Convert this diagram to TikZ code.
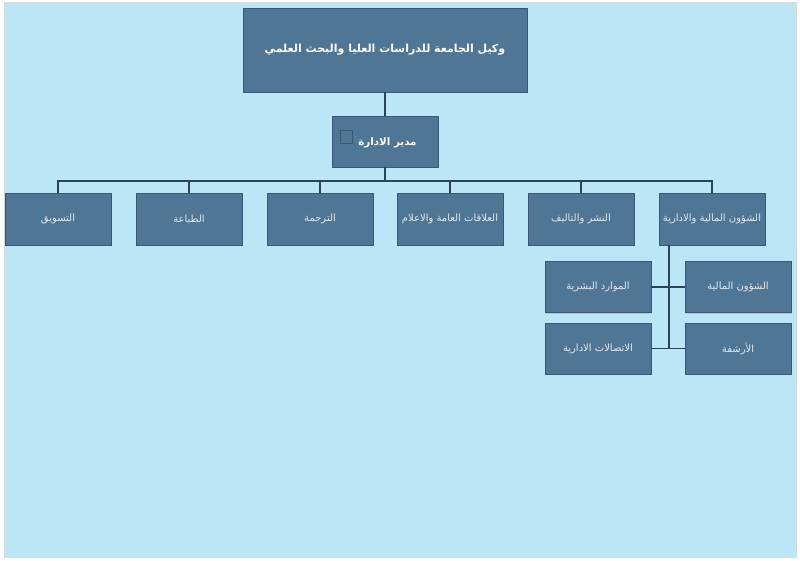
\documentclass[tikz,border=0pt]{standalone}
\usepackage{fontspec}
\usepackage{tikz}
\usetikzlibrary{shadows}
\TeXXeTstate=1
\newfontfamily\arabicfont[Script=Arabic]{DejaVu Sans}
\definecolor{mypaleblue}{RGB}{186,230,245}
\definecolor{myboxblue}{RGB}{80,118,150}
\definecolor{myedgeblue}{RGB}{58,88,115}
\definecolor{mylineblue}{RGB}{40,68,92}
\definecolor{mytextgrey}{RGB}{225,233,238}
\newcommand{\ar}[1]{\arabicfont\beginR #1\endR}
\newcommand{\widthunit}{106pt}
\newcommand{\heightunit}{52pt}
\tikzset{
    common/.style={draw=myedgeblue, fill=myboxblue, rectangle, line width=0.6pt,
        drop shadow={opacity=0.25, shadow xshift=1pt, shadow yshift=-1pt}},
    unit/.style={common, minimum width=\widthunit, minimum height=\heightunit,
        text=mytextgrey, font=\fontsize{10}{12}\selectfont},
    head/.style={common, text=white, font=\fontsize{11}{13}\selectfont\bfseries},
    link/.style={draw=mylineblue, line width=1.3pt}
}
\begin{document}
\begin{tikzpicture}[x=1pt, y=-1pt]
        \useasboundingbox (0,0) rectangle (800,561);
        \fill[white] (0,0) rectangle (800,561);
        \filldraw[fill=mypaleblue, draw=black!15] (4,2) rectangle (796,557);

        \node[head, minimum width=284pt, minimum height=84pt] (top) at (385,50) {\ar{وكيل الجامعة للدراسات العليا والبحث العلمي}};
        \node[head, minimum width=\widthunit, minimum height=51pt, font=\fontsize{10.3}{12}\selectfont\bfseries, text depth=0pt] (mgr) at (385,141.5) {\hspace{5pt}\ar{مدير الادارة}};
        \draw[myedgeblue, line width=0.8pt] (340,130) rectangle (352,143);

        \node[unit] (r6) at (712,219) {\ar{الشؤون المالية والادارية}};
        \node[unit] (r5) at (581,219) {\ar{النشر والتاليف}};
        \node[unit] (r4) at (450,219) {\ar{العلاقات العامة والاعلام}};
        \node[unit] (r3) at (320,219) {\ar{الترجمة}};
        \node[unit] (r2) at (189,219) {\ar{الطباعة}};
        \node[unit] (r1) at (58,219) {\ar{التسويق}};

        \node[unit, minimum height=51pt] (s1) at (598,287) {\ar{الموارد البشرية}};
        \node[unit, minimum height=51pt] (s2) at (738,287) {\ar{الشؤون المالية}};
        \node[unit, minimum height=51pt] (s3) at (598,348.5) {\ar{الاتصالات الادارية}};
        \node[unit, minimum height=51pt] (s4) at (738,348.5) {\ar{الأرشفة}};

        \coordinate (bus) at (385,181);
        \coordinate (spine) at (669,348.5);

        \draw[link] (top) -- (mgr);
        \foreach \n in {r1,r2,r3,r4,r5,r6}
            \draw[link] (mgr.south) -- (bus) -| (\n.north);
        \draw[link] (spine |- r6.south) -- (spine);
        \draw[link] (s1.east) -- (s2.west);
        \draw[link] (s3.east) -- (s4.west);
    \end{tikzpicture}
\end{document}
